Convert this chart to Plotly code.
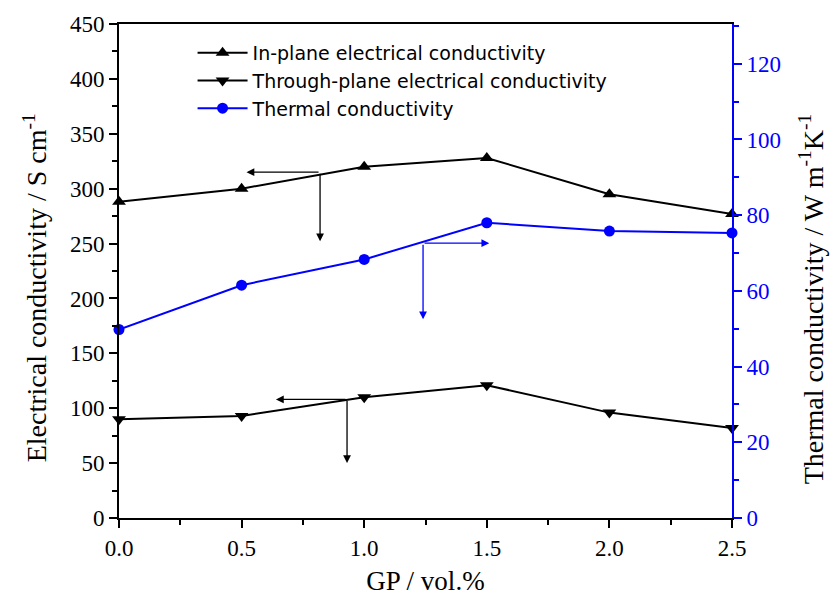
import plotly.graph_objects as go

gp = [0.0, 0.5, 1.0, 1.5, 2.0, 2.5]
in_plane = [288, 300, 320, 328, 295, 277]
through_plane = [90, 93, 110, 121, 96, 82]
thermal = [49.8, 61.5, 68.3, 78.0, 75.8, 75.3]

left_ticks = [0, 50, 100, 150, 200, 250, 300, 350, 400, 450]
right_ticks = [0, 20, 40, 60, 80, 100, 120]
x_ticks = [0.0, 0.5, 1.0, 1.5, 2.0, 2.5]

BLUE = "#0000ff"
SERIF = "Liberation Serif, Times New Roman, serif"
SANS = "DejaVu Sans, Arial, sans-serif"

fig = go.Figure()
fig.add_trace(go.Scatter(x=gp, y=in_plane, mode="lines+markers", name="In-plane electrical conductivity",
                         line=dict(color="black", width=2), marker=dict(symbol="triangle-up", size=12, color="black"),
                         cliponaxis=False))
fig.add_trace(go.Scatter(x=gp, y=through_plane, mode="lines+markers", name="Through-plane electrical conductivity",
                         line=dict(color="black", width=2), marker=dict(symbol="triangle-down", size=12, color="black"),
                         cliponaxis=False))
fig.add_trace(go.Scatter(x=gp, y=thermal, mode="lines+markers", name="Thermal conductivity", yaxis="y2",
                         line=dict(color=BLUE, width=2), marker=dict(symbol="circle", size=11, color=BLUE),
                         cliponaxis=False))

def arrow(x0, y0, x1, y1, color, yref="y"):
    fig.add_annotation(x=x1, y=y1, ax=x0, ay=y0, xref="x", yref=yref, axref="x", ayref=yref,
                       showarrow=True, arrowhead=2, arrowsize=1.2, arrowwidth=1.3, arrowcolor=color, text="")

# in-plane arrows (point to left axis)
arrow(0.82, 315, 0.52, 315, "black")
arrow(0.82, 315, 0.82, 252, "black")
# through-plane arrows
arrow(0.93, 108, 0.64, 108, "black")
arrow(0.93, 108, 0.93, 50, "black")
# thermal arrows (point to right axis)
arrow(1.24, 72.6, 1.51, 72.6, BLUE, yref="y2")
arrow(1.24, 72.6, 1.24, 52.5, BLUE, yref="y2")

# y-axis titles as rotated texts
fig.add_annotation(text="Electrical conductivity / S cm<sup>-1</sup>", xref="paper", yref="paper",
                   x=-0.137, y=0.465, xanchor="center", yanchor="middle", textangle=-90, showarrow=False,
                   font=dict(family=SERIF, size=28, color="black"))
fig.add_annotation(text="Thermal conductivity / W m<sup>-1</sup>K<sup>-1</sup>", xref="paper", yref="paper",
                   x=1.13, y=0.444, xanchor="center", yanchor="middle", textangle=-90, showarrow=False,
                   font=dict(family=SERIF, size=28, color="black"))

fig.update_layout(
    width=834, height=610,
    margin=dict(l=119, r=102, t=20, b=92),
    paper_bgcolor="white", plot_bgcolor="white",
    showlegend=True,
    legend=dict(x=0.12, y=0.98, xanchor="left", yanchor="top", bgcolor="rgba(0,0,0,0)",
                font=dict(family=SANS, size=19, color="black"), tracegroupgap=0, itemwidth=50),
    xaxis=dict(range=[0, 2.5], tickvals=x_ticks, ticktext=[f"{v:.1f}" for v in x_ticks],
               showline=True, linecolor="black", linewidth=2, mirror=True,
               ticks="outside", ticklen=8, tickwidth=2, tickcolor="black",
               minor=dict(dtick=0.25, ticks="outside", ticklen=5, tickwidth=2, tickcolor="black"),
               showgrid=False, zeroline=False,
               tickfont=dict(family=SERIF, size=23, color="black"),
               title=dict(text="GP / vol.%", font=dict(family=SERIF, size=27, color="black"), standoff=12)),
    yaxis=dict(range=[0, 450], tickvals=left_ticks,
               showline=True, linecolor="black", linewidth=2,
               ticks="outside", ticklen=8, tickwidth=2, tickcolor="black",
               minor=dict(dtick=25, ticks="outside", ticklen=5, tickwidth=2, tickcolor="black"),
               showgrid=False, zeroline=False,
               tickfont=dict(family=SERIF, size=23, color="black")),
    yaxis2=dict(range=[0, 130.5], tickvals=right_ticks, overlaying="y", side="right",
                showline=True, linecolor=BLUE, linewidth=2,
                ticks="outside", ticklen=8, tickwidth=2, tickcolor=BLUE,
                minor=dict(dtick=10, ticks="outside", ticklen=5, tickwidth=2, tickcolor=BLUE),
                showgrid=False, zeroline=False,
                tickfont=dict(family=SERIF, size=23, color=BLUE)),
)

fig.write_html("out.html")
